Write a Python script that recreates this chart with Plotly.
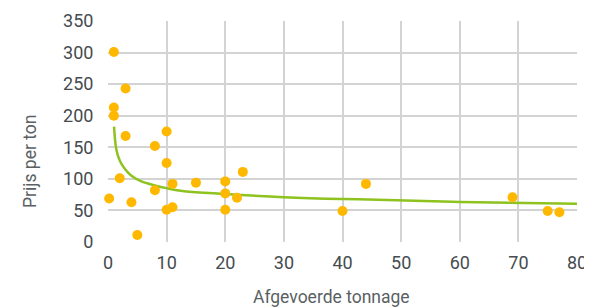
import plotly.graph_objects as go

tonnage = [1, 3, 1, 1, 3, 10, 8, 10, 2, 0.2, 4, 5, 8, 11, 10, 11, 15, 20, 20, 20, 22, 23, 40, 44, 69, 75, 77]
prijs = [301, 243, 213, 200, 168, 175, 152, 125, 101, 69, 63, 11, 82, 92, 51, 55, 94, 96, 77, 51, 70, 111, 49, 92, 71, 49, 47]

trend_x = [1.03, 1.43, 2, 2.85, 4, 5.7, 8, 10, 13, 20, 30, 40, 46, 60, 80]
trend_y = [182.6, 146, 129, 116, 105, 96, 89.6, 85.3, 80.5, 76, 71, 68, 67, 63.5, 60.6]

x_ticks = [0, 10, 20, 30, 40, 50, 60, 70, 80]
y_ticks = [0, 50, 100, 150, 200, 250, 300, 350]

# page body has an 8px margin; figure placed at (8, 8)
W, H = 584, 299
L, T = 100.3, 12.5
PW, PH = 468.4, 221.2

fig = go.Figure()
fig.add_trace(go.Scatter(x=trend_x, y=trend_y, mode="lines",
                         line=dict(color="#8DC21F", width=2.5, shape="spline"),
                         hoverinfo="skip", showlegend=False, cliponaxis=False))
fig.add_trace(go.Scatter(x=tonnage, y=prijs, mode="markers",
                         marker=dict(color="#FFB800", size=10),
                         showlegend=False, cliponaxis=False))

tick_font = dict(family="Roboto, sans-serif", size=18, color="#454B4F")
title_font = dict(family="Roboto, sans-serif", size=17.5, color="#5A5F63")
fig.update_layout(
    width=W, height=H,
    margin=dict(l=L, r=W - L - PW, t=T, b=H - T - PH, autoexpand=False),
    paper_bgcolor="white", plot_bgcolor="white",
    xaxis=dict(range=[0, 80], tickvals=x_ticks, showgrid=True, gridcolor="#D3D3D3",
               gridwidth=1.5, zeroline=False, showline=False, tickfont=tick_font,
               ticks="outside", ticklen=4, tickcolor="rgba(0,0,0,0)", automargin=False),
    yaxis=dict(range=[0, 350], tickvals=y_ticks, showgrid=True, gridcolor="#D3D3D3",
               gridwidth=1.5, zeroline=False, showline=False, tickfont=tick_font,
               ticks="outside", ticklen=10, tickcolor="rgba(0,0,0,0)", automargin=False),
    annotations=[
        dict(text="Afgevoerde tonnage", xref="paper", yref="paper", x=0.477, y=-0.25,
             showarrow=False, font=title_font, xanchor="center", yanchor="middle"),
        dict(text="Prijs per ton", xref="paper", yref="paper", x=-0.165, y=0.365,
             showarrow=False, textangle=-90, font=title_font,
             xanchor="center", yanchor="middle"),
    ],
)
fig.write_html("out.html")
